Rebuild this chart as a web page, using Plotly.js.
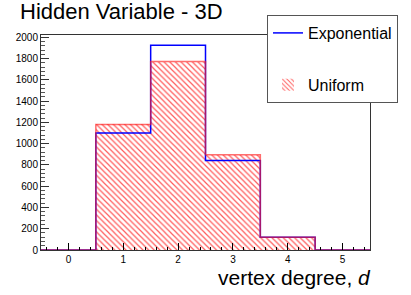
<!DOCTYPE html>
<html>
<head>
<meta charset="utf-8">
<script src="https://cdn.plot.ly/plotly-3.0.1.min.js"></script>
<style>
    html, body { margin: 0; padding: 0; background: #fff; }
    #hist { width: 411px; height: 295px; }
</style>
</head>
<body>
<div id="hist"></div>
<script>
// Bin centers (vertex degree) and bin width
const degrees = [0, 1, 2, 3, 4, 5];
const binWidth = 1;

// Counts per bin for each model
const exponentialCounts = [0, 1100, 1925, 842, 120, 0];
const uniformCounts = [0, 1180, 1772, 895, 120, 0];

// Y axis top (ROOT style: 5% headroom over the highest bin)
const yMax = 1.05 * Math.max(...exponentialCounts, ...uniformCounts);

const FontFamily = '"Liberation Sans", Arial, Helvetica, sans-serif';

// Step outline of a histogram from bin centers and contents
function stepTrace(counts, color, opacity) {
    var edges = degrees.map(d => d - binWidth / 2);
    edges.push(degrees.at(-1) + binWidth / 2);
    var y = counts.slice();
    y.push(counts.at(-1));
    return {
        x: edges,
        y: y,
        type: 'scatter',
        mode: 'lines',
        line: { shape: 'hv', color: color, width: 1.5 },
        opacity: opacity,
        hoverinfo: 'none',
        showlegend: false
    };
}

// Hatched fill of the uniform histogram
var uniformBars = {
    x: degrees,
    y: uniformCounts,
    width: binWidth,
    type: 'bar',
    name: 'Uniform',
    legendgroup: 'b',
    legendrank: 2,
    marker: {
        color: 'rgba(0,0,0,0)',
        line: { width: 0 },
        pattern: {
            shape: '\\',
            fgcolor: '#ff3030',
            bgcolor: 'rgba(0,0,0,0)',
            fgopacity: 0.8,
            size: 4,
            solidity: 0.3
        }
    },
    hoverinfo: 'none'
};

// Exponential outline (with legend line)
var expLine = stepTrace(exponentialCounts, '#0000ff', 1);
expLine.name = 'Exponential';
expLine.showlegend = true;
expLine.legendgroup = 'a';
expLine.legendrank = 1;

// Uniform outline drawn on top
var uniLine = stepTrace(uniformCounts, '#ff2020', 0.65);

var layout = {
    width: 411,
    height: 295,
    margin: { l: 41, r: 41, t: 35, b: 45 },
    paper_bgcolor: '#fff',
    plot_bgcolor: '#fff',
    font: { family: FontFamily, color: '#000', size: 10 },
    bargap: 0,
    title: {
        text: 'Hidden Variable - 3D',
        font: { family: FontFamily, size: 22, color: '#000' },
        x: 20 / 411,
        xref: 'container',
        xanchor: 'left',
        y: 1 - 4 / 295,
        yref: 'container',
        yanchor: 'top'
    },
    xaxis: {
        range: [degrees[0] - binWidth / 2, degrees.at(-1) + binWidth / 2],
        tickvals: degrees,
        ticks: 'inside',
        ticklen: 7,
        tickcolor: '#000',
        tickfont: { size: 10 },
        showgrid: false,
        zeroline: false,
        showline: true,
        linecolor: '#333',
        linewidth: 1,
        mirror: true,
        fixedrange: true,
        minor: { dtick: 0.2, ticks: 'inside', ticklen: 3.5, tickcolor: '#000', showgrid: false }
    },
    yaxis: {
        range: [0, yMax],
        dtick: 200,
        ticks: 'inside',
        ticklen: 8,
        tickcolor: '#333',
        tickfont: { size: 10 },
        showgrid: false,
        zeroline: false,
        showline: true,
        linecolor: '#333',
        linewidth: 1,
        mirror: true,
        fixedrange: true,
        minor: { dtick: 40, ticks: 'inside', ticklen: 4, tickcolor: '#555', showgrid: false }
    },
    showlegend: true,
    legend: {
        x: (267 - 41) / 329,
        xanchor: 'left',
        y: (250 - 15) / 215,
        yanchor: 'top',
        bgcolor: '#fff',
        bordercolor: '#555',
        borderwidth: 1,
        font: { family: FontFamily, size: 16, color: '#000' },
        tracegroupgap: 28,
        itemwidth: 30
    },
    annotations: [{
        text: 'vertex degree, <i>d</i>',
        xref: 'paper',
        yref: 'paper',
        x: 1,
        xanchor: 'right',
        xshift: 3,
        y: -(264 - 250) / 215,
        yanchor: 'top',
        showarrow: false,
        font: { family: FontFamily, size: 21, color: '#000' }
    }]
};

Plotly.newPlot('hist', [uniformBars, expLine, uniLine], layout, { displayModeBar: false, staticPlot: true });
</script>
</body>
</html>
